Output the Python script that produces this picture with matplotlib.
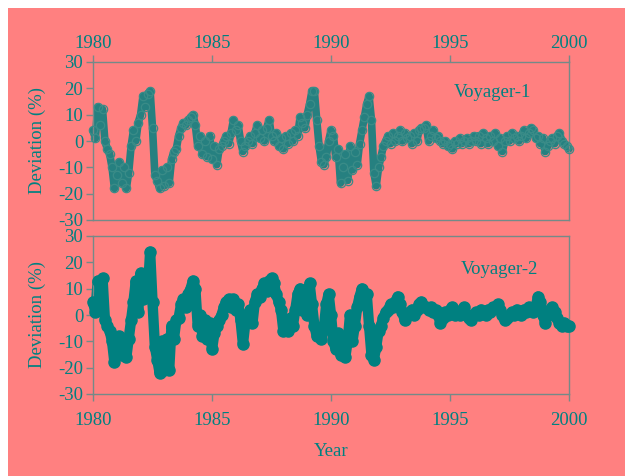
import matplotlib
matplotlib.use("Agg")
import matplotlib.pyplot as plt
import numpy as np
from matplotlib.patches import Rectangle

# ---- data ----
years_v1 = [round(1980.0 + 0.1 * i, 1) for i in range(201)]
dev_v1 = [
    4, 1, 13, 6, 12, 0, -3, -5, -10, -18,
    -13, -8, -16, -10, -18, -12, -2, 4, 0, 7,
    10, 17, 13, 18, 19, 5, -13, -15, -18, -11,
    -17, -10, -16, -7, -4, -3, 2, 5, 7, 6,
    8, 9, 10, 6, -2, 2, -5, 0, -6, 2,
    -7, -2, -9, -3, -2, 0, 2, -1, 3, 8,
    4, 6, 0, -4, -2, 0, 2, -1, 3, 6,
    1, 4, 0, 5, 8, 2, 0, 3, -2, 1,
    -3, 2, -1, 3, 0, 4, 2, 9, 7, 5,
    10, 14, 19, 19, 8, -2, -8, -9, -6, 0,
    4, 2, -6, -3, -16, -10, -5, -15, -2, -11,
    -4, -9, -1, 4, 9, 14, 17, 8, -12, -17,
    -10, -6, -2, 0, 2, -1, 3, 0, 2, 4,
    0, 3, 1, 2, -1, 3, 0, 4, 5, 5,
    6, 0, 2, 4, 1, 2, 0, -1, 0, -2,
    -1, -3, 0, -1, 1, -1, 0, 1, -1, 0,
    2, 0, 2, -1, 3, 1, -1, 2, 0, 3,
    -2, 1, -4, 0, 2, 0, 3, 1, 2, 0,
    2, 4, 1, 3, 5, 4, 1, 2, -1, 1,
    -4, -2, 0, 1, -1, 2, 3, 0, -1, -2,
    -3,
]

years_v2 = [round(1980.0 + 0.1 * i, 1) for i in range(201)]
dev_v2 = [
    5, 1, 13, 8, 14, -2, -4, -6, -10, -18,
    -12, -8, -15, -10, -16, -9, -2, 5, 13, 1,
    16, 6, 15, 8, 24, 5, -12, -17, -22, -10,
    -21, -9, -21, -4, -9, -2, -1, 4, 6, 3,
    8, 10, 13, 10, -4, 0, -8, -2, -9, -3,
    -13, -7, -4, -2, 0, 3, 5, 6, 3, 6,
    2, 4, -2, -11, -3, 0, 2, -3, 5, 8,
    7, 10, 12, 9, 13, 14, 12, 8, 5, 2,
    -6, -3, -6, -1, -4, 2, 8, 10, 2, 7,
    0, 12, 4, -4, -8, -6, -9, -5, 4, 8,
    0, -10, -13, -7, -15, -9, -16, -10, 0, -10,
    -4, 3, 7, 10, 6, 8, -4, -15, -17, -12,
    -6, -4, -1, 1, 2, 4, 3, 5, 7, 4,
    1, -2, 0, 1, 2, 0, 2, 4, 5, 3,
    3, 2, 3, 1, 2, 0, -3, -1, 1, 0,
    2, 3, 0, 1, 0, 2, 3, 0, -1, -2,
    0, 1, 0, 2, 1, 0, 2, 1, 3, 3,
    4, 2, 0, -2, -1, 0, 1, 0, 2, 1,
    0, 2, 1, 3, 2, 1, 3, 7, 5, 0,
    -3, 0, 2, 3, 1, -1, -3, -4, -3, -4,
    -4,
]

xticks = [1980, 1985, 1990, 1995, 2000]
yticks = [-30, -20, -10, 0, 10, 20, 30]
labels = ["Voyager-1", "Voyager-2"]

# ---- style ----
PINK = "#FF8080"
TEAL = "#008080"
SPINE = "#748a88"
plt.rcParams["font.family"] = ["Liberation Serif", "DejaVu Serif"]
plt.rcParams["axes.unicode_minus"] = False
FS = 13.5

fig = plt.figure(figsize=(6.25, 4.76), dpi=100, facecolor="white")
fig.patches.append(Rectangle((8 / 625, 0), 1 - 8 / 625, 1 - 8 / 476,
                             transform=fig.transFigure, facecolor=PINK,
                             edgecolor="none", zorder=-10))

L, R = 93 / 625, 569 / 625
ax1 = fig.add_axes([L, 1 - 220 / 476, R - L, (220 - 62) / 476])
ax2 = fig.add_axes([L, 1 - 394 / 476, R - L, (394 - 236) / 476])

for ax in (ax1, ax2):
    ax.set_facecolor("none")
    ax.set_xlim(1980, 2000)
    ax.set_ylim(-30, 30)
    ax.set_xticks(xticks)
    ax.set_yticks(yticks)
    for s in ax.spines.values():
        s.set_color(SPINE)
        s.set_linewidth(1.0)
    ax.tick_params(colors=SPINE, labelcolor=TEAL, labelsize=FS,
                   length=5, width=1.0, direction="out")
    ax.tick_params(axis="y", pad=2)
    ax.set_ylabel("Deviation (%)", color=TEAL, fontsize=FS)
    ax.yaxis.set_label_coords(-0.099, 0.5)

ax1.tick_params(axis="x", top=True, bottom=False, labeltop=True,
                labelbottom=False, pad=2)
ax2.tick_params(axis="x", top=False, bottom=True, labeltop=False,
                labelbottom=True, pad=8)
ax2.set_xlabel("Year", color=TEAL, fontsize=FS, labelpad=10)

# Voyager-1: hollow circles
ax1.plot(years_v1, dev_v1, color=TEAL, lw=5.5, solid_joinstyle="round",
         solid_capstyle="round", alpha=0.85, zorder=2, clip_on=False)
ax1.plot(years_v1, dev_v1, ls="none", marker="o", ms=6, mfc="none",
         mec="#3a8c88", mew=0.9, zorder=3, clip_on=False)
# Voyager-2: filled circles
ax2.plot(years_v2, dev_v2, color=TEAL, lw=7.5, solid_joinstyle="round",
         solid_capstyle="round", zorder=2, clip_on=False)
ax2.plot(years_v2, dev_v2, ls="none", marker="o", ms=8, mfc=TEAL,
         mec=TEAL, zorder=3, clip_on=False)

ax1.text(1996.8, 18.6, labels[0], color=TEAL, fontsize=FS,
         ha="center", va="center")
ax2.text(1997.06, 17.1, labels[1], color=TEAL, fontsize=FS,
         ha="center", va="center")

fig.savefig("out.png", dpi=100, facecolor="white")
